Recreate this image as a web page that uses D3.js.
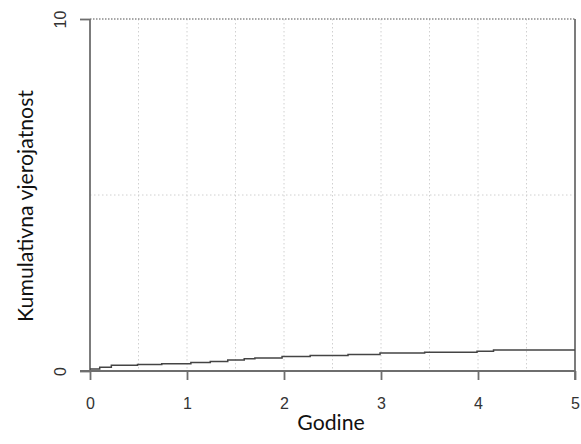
<!DOCTYPE html>
<html>
<head>
<meta charset="utf-8">
<script src="https://cdn.jsdelivr.net/npm/d3@7"></script>
<style>
  body { margin: 0; background: #fff; }
  svg { display: block; }
</style>
</head>
<body>
<div id="chart"></div>
<script>
// Kumulativna krivulja (step) – vrijednosti očitane sa slike
const godine = [0, 0.10, 0.22, 0.49, 0.74, 1.04, 1.24, 1.42, 1.59, 1.70, 1.98, 2.27, 2.66, 2.99, 3.45, 3.99, 4.16, 5];
const vjerojatnost = [0.06, 0.11, 0.165, 0.185, 0.205, 0.24, 0.27, 0.31, 0.35, 0.37, 0.41, 0.44, 0.47, 0.51, 0.535, 0.56, 0.60, 0.60];
const xTicks = [0, 1, 2, 3, 4, 5];
const yTicks = [0, 10];
const xGrid = [0.5, 1, 1.5, 2, 2.5, 3, 3.5, 4, 4.5];
const yGrid = [5];

const W = 581, H = 444;
const margin = { top: 19, right: 6, bottom: 73, left: 90 };
const width = W - margin.left - margin.right;
const height = H - margin.top - margin.bottom;

const svg = d3.select('#chart').append('svg')
  .attr('width', W).attr('height', H);
const g = svg.append('g')
  .attr('transform', `translate(${margin.left},${margin.top})`);

const x = d3.scaleLinear().domain([0, 5]).range([0, width]);
const y = d3.scaleLinear().domain([0, 10]).range([height, 0]);

// mreža
g.selectAll('.vgrid').data(xGrid).enter().append('line')
  .attr('x1', d => x(d)).attr('x2', d => x(d))
  .attr('y1', y(10)).attr('y2', y(0))
  .attr('stroke', '#d0d0d0').attr('stroke-dasharray', '1.5,2.5');
g.selectAll('.hgrid').data(yGrid).enter().append('line')
  .attr('x1', 0).attr('x2', x(5))
  .attr('y1', d => y(d)).attr('y2', d => y(d))
  .attr('stroke', '#d0d0d0').attr('stroke-dasharray', '1.5,2.5');
// gornja linija (10)
g.append('line')
  .attr('x1', 0).attr('x2', x(5))
  .attr('y1', y(10)).attr('y2', y(10))
  .attr('stroke', '#8a8a8a').attr('stroke-width', 1.5).attr('stroke-dasharray', '1.5,1.5');

// osi
const xAxis = g.append('g')
  .attr('transform', `translate(0,${height})`)
  .call(d3.axisBottom(x).tickValues(xTicks).tickSize(9).tickPadding(18).tickFormat(d3.format('d')));
xAxis.select('.domain').attr('d', `M-10,0H${x(5)}`);

const yAxis = g.append('g')
  .call(d3.axisLeft(y).tickValues(yTicks).tickSize(10).tickPadding(0).tickFormat(d3.format('d')));
yAxis.select('.domain').attr('d', `M0,${y(10)}V${y(0)}`);
yAxis.selectAll('text')
  .attr('transform', 'rotate(-90)')
  .attr('text-anchor', 'middle')
  .attr('x', 0)
  .attr('y', -30)
  .attr('dy', '0.35em');

[xAxis, yAxis].forEach(a => {
  a.selectAll('.domain, line').attr('stroke', '#6e6e6e').attr('stroke-width', 1.8);
  a.selectAll('text')
    .attr('fill', '#333')
    .style('font-family', 'Liberation Sans, Arial, sans-serif')
    .style('font-size', '16px');
});

// desni rub
g.append('line')
  .attr('x1', x(5)).attr('x2', x(5))
  .attr('y1', y(10)).attr('y2', y(0) + 9)
  .attr('stroke', '#6e6e6e').attr('stroke-width', 1.8);

// krivulja
const pts = godine.map((d, i) => [d, vjerojatnost[i]]);
g.append('path')
  .datum(pts)
  .attr('fill', 'none')
  .attr('stroke', '#444')
  .attr('stroke-width', 1.5)
  .attr('d', d3.line().x(d => x(d[0])).y(d => y(d[1])).curve(d3.curveStepAfter));

// naslovi osi
const yTitle = svg.append('text')
  .attr('transform', `translate(33,206) rotate(-90)`)
  .attr('text-anchor', 'middle')
  .style('font-family', 'Lato, sans-serif').style('font-size', '18px')
  .attr('fill', '#111')
  .text('Kumulativna vjerojatnost');
// veličina fonta prema širini naslova na slici (~232px)
const fs = 18 * 232 / yTitle.node().getComputedTextLength();
yTitle.style('font-size', fs + 'px');

svg.append('text')
  .attr('x', 331).attr('y', 430)
  .attr('text-anchor', 'middle')
  .style('font-family', 'Lato, sans-serif').style('font-size', fs + 'px')
  .attr('fill', '#111')
  .text('Godine');
</script>
</body>
</html>
